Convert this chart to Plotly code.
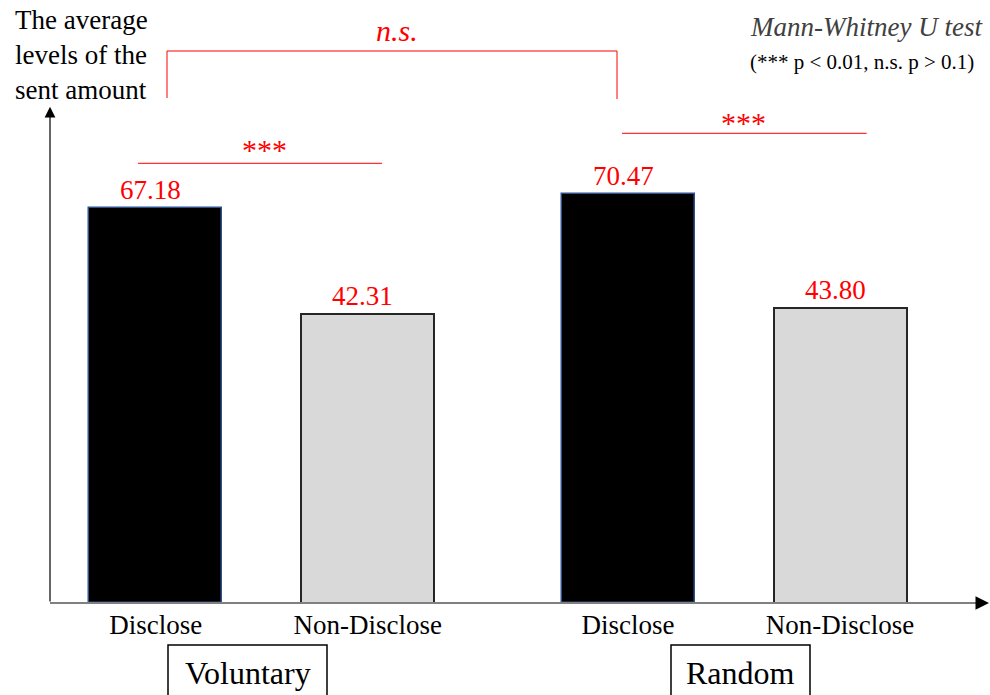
import plotly.graph_objects as go

# ---------------- data ----------------
groups = ["Voluntary", "Random"]
conditions = ["Disclose", "Non-Disclose"]
disclose_values = [67.18, 70.47]       # Voluntary, Random
non_disclose_values = [42.31, 43.80]   # Voluntary, Random
sig_within = ["***", "***"]            # Disclose vs Non-Disclose in each group
sig_between = "n.s."                   # Voluntary-Disclose vs Random-Disclose
test_title = "Mann-Whitney U test"
test_note = "(*** p < 0.01, n.s. p > 0.1)"
y_title = "The average<br>levels of the<br>sent amount"

# ---------------- layout constants ----------------
W, H = 990, 695
PL, PR, PT, PB = 50, 990, 100, 603          # plot area in pixels
GROUP_X = [155.8, 628.0]                     # centre of first bar in each group (x units = px)
INNER = 212.0                                # distance between bars within a group
BAR_W = 133
Y0 = -25.3                                   # value at the drawn baseline
PX_PER_UNIT = 4.269
Y1 = Y0 + (PB - PT) / PX_PER_UNIT

FONT = "Liberation Serif"
RED = "#FF0000"


def px(x):
    return (x - PL) / (PR - PL)


def py(y):
    return (PB - y) / (PB - PT)


dis_x = [GROUP_X[g] for g in range(len(groups))]
non_x = [GROUP_X[g] + INNER for g in range(len(groups))]

fig = go.Figure()
fig.add_trace(go.Bar(
    x=dis_x, y=[v - Y0 for v in disclose_values], base=Y0, width=BAR_W,
    marker=dict(color="#000000", line=dict(color="#2F528F", width=1.5)),
    name=conditions[0], showlegend=False, hoverinfo="skip"))
fig.add_trace(go.Bar(
    x=non_x, y=[v - Y0 for v in non_disclose_values], base=Y0, width=BAR_W,
    marker=dict(color="#D9D9D9", line=dict(color="#262626", width=2)),
    name=conditions[1], showlegend=False, hoverinfo="skip"))

annotations = []
shapes = []

# value labels
for xs, vals in ((dis_x, disclose_values), (non_x, non_disclose_values)):
    for x, v in zip(xs, vals):
        annotations.append(dict(x=x, y=v, xref="x", yref="y", text=f"{v:.2f}",
                                showarrow=False, xshift=-5, yshift=18, yanchor="middle",
                                font=dict(family=FONT, size=27, color=RED)))

# x axis: grey line + black arrowhead
shapes.append(dict(type="line", xref="paper", yref="paper", x0=0, x1=px(983), y0=py(PB), y1=py(PB),
                   line=dict(color="#808080", width=2)))
annotations.append(dict(x=1.0, y=py(PB), xref="paper", yref="paper", ax=-10, ay=0,
                        axref="pixel", ayref="pixel", text="", showarrow=True,
                        arrowhead=2, arrowsize=1.8, arrowwidth=1.5, arrowcolor="#000000"))
# y axis with arrow
annotations.append(dict(x=0.0, y=py(106.7), xref="paper", yref="paper", ax=0, ay=PB - 106.7,
                        axref="pixel", ayref="pixel", text="", showarrow=True,
                        arrowhead=2, arrowsize=1.8, arrowwidth=1.2, arrowcolor="#000000"))

# y title
annotations.append(dict(x=px(13), y=py(55), xref="paper", yref="paper", text=y_title,
                        showarrow=False, xanchor="left", yanchor="middle", align="left",
                        font=dict(family=FONT, size=27, color="#000000")))

# test description
annotations.append(dict(x=px(748), y=py(27), xref="paper", yref="paper", text=f"<i>{test_title}</i>",
                        showarrow=False, xanchor="left", yanchor="middle",
                        font=dict(family=FONT, size=27, color="#404040")))
annotations.append(dict(x=px(748), y=py(62), xref="paper", yref="paper", text=test_note,
                        showarrow=False, xanchor="left", yanchor="middle",
                        font=dict(family=FONT, size=21, color="#000000")))

# within-group significance lines
sig_lines = [(138, 382, 163.3, 264, 149), (622, 866.7, 133.3, 743, 122)]
for (x0, x1, yl, xt, yt), s in zip(sig_lines, sig_within):
    shapes.append(dict(type="line", xref="x", yref="paper", x0=x0, x1=x1, y0=py(yl), y1=py(yl),
                       line=dict(color=RED, width=1)))
    annotations.append(dict(x=xt, y=py(yt), xref="x", yref="paper", text=s, showarrow=False,
                            yanchor="middle", font=dict(family=FONT, size=30, color=RED)))

# between-group bracket
for (x0, y0, x1, y1) in [(167, 98, 167, 51), (167, 51, 617, 51), (617, 51, 617, 99)]:
    shapes.append(dict(type="line", xref="x", yref="paper", x0=x0, x1=x1, y0=py(y0), y1=py(y1),
                       line=dict(color=RED, width=1)))
annotations.append(dict(x=397, y=py(31), xref="x", yref="paper", text=f"<i>{sig_between}</i>",
                        showarrow=False, yanchor="middle", font=dict(family=FONT, size=30, color=RED)))

# group boxes
boxes = [(168, 327), (671, 810)]
for (bx0, bx1), g in zip(boxes, groups):
    shapes.append(dict(type="rect", xref="x", yref="paper", x0=bx0, x1=bx1, y0=py(645), y1=py(720),
                       line=dict(color="#000000", width=1.5)))
    annotations.append(dict(x=(bx0 + bx1) / 2, y=py(673), xref="x", yref="paper", text=g,
                            showarrow=False, yanchor="middle",
                            font=dict(family=FONT, size=32, color="#000000")))

fig.update_layout(
    width=W, height=H,
    margin=dict(l=PL, r=W - PR, t=PT, b=H - PB, pad=0),
    paper_bgcolor="white", plot_bgcolor="white",
    barmode="overlay", bargap=0,
    xaxis=dict(range=[PL, PR], tickvals=dis_x + non_x,
               ticktext=[conditions[0]] * len(groups) + [conditions[1]] * len(groups),
               tickfont=dict(family=FONT, size=27, color="#000000"), ticklabelstandoff=3,
               showgrid=False, zeroline=False, showline=False, ticks=""),
    yaxis=dict(range=[Y0, Y1], showticklabels=False, showgrid=False, zeroline=False,
               showline=False, ticks=""),
    annotations=annotations, shapes=shapes,
)

fig.write_html("out.html", config={"displayModeBar": False},
               post_script="document.body.style.margin='0';document.body.style.overflow='hidden';")
